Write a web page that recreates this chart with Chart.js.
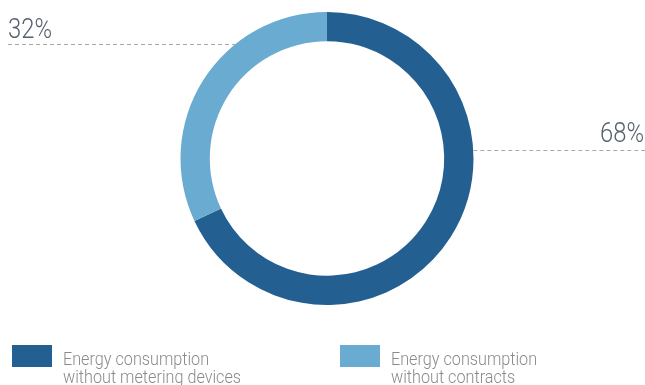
<!DOCTYPE html>
<html><head><meta charset="utf-8">
<script src="https://cdn.jsdelivr.net/npm/chart.js@4/dist/chart.umd.min.js"></script>
<style>html,body{margin:0;padding:0;background:#fff;}#wrap{width:645px;height:385px;position:relative;}</style>
</head><body><div id="wrap"><canvas id="c" width="645" height="385"></canvas></div>
<script>
const categories = ["Energy consumption\nwithout metering devices", "Energy consumption\nwithout contracts"];
const values = [68, 32];
const colors = ["#245f92", "#6aabd1"];
const percentLabels = ["68%", "32%"];

function condText(ctx, txt, x, y, sx, align) {
  ctx.save();
  ctx.translate(x, y);
  ctx.scale(sx, 1);
  ctx.textAlign = align || 'left';
  ctx.fillText(txt, 0, 0);
  ctx.restore();
}

const overlay = {
  id: 'overlay',
  afterDraw(chart) {
    const ctx = chart.ctx;
    const arc = chart.getDatasetMeta(0).data[0];
    const cx = arc.x, cy = arc.y, r = arc.outerRadius;
    ctx.save();
    ctx.strokeStyle = '#a9a9a9';
    ctx.lineWidth = 1;
    ctx.setLineDash([4, 3]);
    // 68% label (right)
    let y1 = 150.5;
    let x1 = cx + Math.sqrt(r*r - (y1-cy)*(y1-cy));
    ctx.beginPath(); ctx.moveTo(x1, y1); ctx.lineTo(645, y1); ctx.stroke();
    // 32% label (left)
    let y2 = 44.5;
    let x2 = cx - Math.sqrt(r*r - (y2-cy)*(y2-cy));
    ctx.beginPath(); ctx.moveTo(8, y2); ctx.lineTo(x2, y2); ctx.stroke();
    ctx.setLineDash([]);
    ctx.fillStyle = '#56606d';
    ctx.font = '300 28px Roboto';
    ctx.textBaseline = 'alphabetic';
    condText(ctx, percentLabels[0], 644, 142, 0.85, 'right');
    condText(ctx, percentLabels[1], 8, 38, 0.85, 'left');
    // legend
    const lx = [12, 340];
    ctx.font = '300 18px Roboto';
    categories.forEach((c, i) => {
      ctx.fillStyle = colors[i];
      ctx.fillRect(lx[i], 345, 40, 22);
      ctx.fillStyle = '#8a8a8a';
      const lines = c.split('\n');
      lines.forEach((ln, j) => {
        condText(ctx, ln, lx[i] + 51, 365 + j * 18, 0.9, 'left');
      });
    });
    ctx.restore();
  }
};

new Chart(document.getElementById('c'), {
  type: 'doughnut',
  data: {
    labels: categories,
    datasets: [{
      data: values,
      backgroundColor: colors,
      borderWidth: 0,
      hoverOffset: 0
    }]
  },
  options: {
    responsive: false,
    animation: false,
    cutout: '80%',
    layout: { padding: { top: 12, bottom: 80, left: 9, right: 0 } },
    plugins: { legend: { display: false }, tooltip: { enabled: false } }
  },
  plugins: [overlay]
});
</script>
</body></html>
